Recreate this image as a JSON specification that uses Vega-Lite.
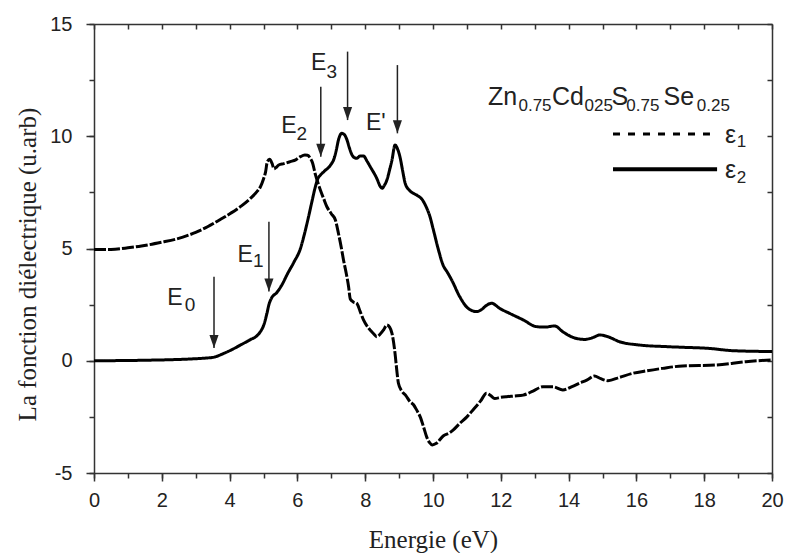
{
  "$schema": "https://vega.github.io/schema/vega-lite/v6.json",
  "width": 678,
  "height": 449,
  "autosize": {"type": "none"},
  "padding": {"left": 94, "top": 24, "right": 17, "bottom": 80},
  "background": "white",
  "view": {"stroke": null},
  "config": {
    "axis": {
      "grid": false,
      "domainColor": "#333",
      "tickColor": "#333",
      "domainWidth": 1.5,
      "tickWidth": 1.5,
      "labelFont": "Liberation Sans",
      "labelFontSize": 20,
      "labelColor": "#222",
      "titleFont": "Liberation Serif",
      "titleFontSize": 25,
      "titleFontWeight": "normal",
      "titleColor": "#222",
      "labelOverlap": false,
      "labelFlush": false
    }
  },
  "datasets": {
    "curves": [
      {"E": 0, "v": 4.95, "s": "ε1"}, {"E": 0.5, "v": 4.96, "s": "ε1"}, {"E": 1.0, "v": 5.03, "s": "ε1"}, {"E": 1.4, "v": 5.11, "s": "ε1"},
      {"E": 2.0, "v": 5.28, "s": "ε1"}, {"E": 2.4, "v": 5.41, "s": "ε1"}, {"E": 3.0, "v": 5.72, "s": "ε1"}, {"E": 3.35, "v": 5.97, "s": "ε1"},
      {"E": 3.7, "v": 6.27, "s": "ε1"}, {"E": 4.03, "v": 6.57, "s": "ε1"}, {"E": 4.35, "v": 6.9, "s": "ε1"}, {"E": 4.62, "v": 7.24, "s": "ε1"},
      {"E": 4.8, "v": 7.52, "s": "ε1"}, {"E": 4.91, "v": 7.75, "s": "ε1"}, {"E": 5.0, "v": 8.1, "s": "ε1"}, {"E": 5.06, "v": 8.4, "s": "ε1"},
      {"E": 5.11, "v": 8.85, "s": "ε1"}, {"E": 5.18, "v": 8.97, "s": "ε1"}, {"E": 5.25, "v": 8.8, "s": "ε1"}, {"E": 5.31, "v": 8.55, "s": "ε1"},
      {"E": 5.38, "v": 8.62, "s": "ε1"}, {"E": 5.45, "v": 8.72, "s": "ε1"}, {"E": 5.6, "v": 8.78, "s": "ε1"}, {"E": 5.79, "v": 8.87, "s": "ε1"},
      {"E": 5.95, "v": 8.95, "s": "ε1"}, {"E": 6.09, "v": 9.09, "s": "ε1"}, {"E": 6.22, "v": 9.16, "s": "ε1"}, {"E": 6.3, "v": 9.15, "s": "ε1"},
      {"E": 6.38, "v": 9.02, "s": "ε1"}, {"E": 6.45, "v": 8.8, "s": "ε1"}, {"E": 6.53, "v": 8.3, "s": "ε1"}, {"E": 6.6, "v": 7.95, "s": "ε1"},
      {"E": 6.68, "v": 7.6, "s": "ε1"}, {"E": 6.78, "v": 7.2, "s": "ε1"}, {"E": 6.87, "v": 6.86, "s": "ε1"}, {"E": 7.0, "v": 6.55, "s": "ε1"},
      {"E": 7.12, "v": 6.27, "s": "ε1"}, {"E": 7.21, "v": 5.68, "s": "ε1"}, {"E": 7.3, "v": 5.0, "s": "ε1"}, {"E": 7.36, "v": 4.49, "s": "ε1"},
      {"E": 7.44, "v": 3.9, "s": "ε1"}, {"E": 7.51, "v": 3.3, "s": "ε1"}, {"E": 7.56, "v": 2.75, "s": "ε1"}, {"E": 7.65, "v": 2.62, "s": "ε1"},
      {"E": 7.75, "v": 2.56, "s": "ε1"}, {"E": 7.85, "v": 2.2, "s": "ε1"}, {"E": 7.95, "v": 1.82, "s": "ε1"}, {"E": 8.1, "v": 1.45, "s": "ε1"},
      {"E": 8.25, "v": 1.2, "s": "ε1"}, {"E": 8.34, "v": 1.07, "s": "ε1"}, {"E": 8.45, "v": 1.2, "s": "ε1"}, {"E": 8.54, "v": 1.37, "s": "ε1"},
      {"E": 8.64, "v": 1.59, "s": "ε1"}, {"E": 8.72, "v": 1.5, "s": "ε1"}, {"E": 8.79, "v": 1.22, "s": "ε1"}, {"E": 8.88, "v": 0.33, "s": "ε1"},
      {"E": 8.93, "v": -0.4, "s": "ε1"}, {"E": 8.98, "v": -1.0, "s": "ε1"}, {"E": 9.08, "v": -1.35, "s": "ε1"}, {"E": 9.2, "v": -1.55, "s": "ε1"},
      {"E": 9.32, "v": -1.82, "s": "ε1"}, {"E": 9.42, "v": -1.95, "s": "ε1"}, {"E": 9.52, "v": -2.2, "s": "ε1"}, {"E": 9.62, "v": -2.49, "s": "ε1"},
      {"E": 9.72, "v": -2.94, "s": "ε1"}, {"E": 9.81, "v": -3.38, "s": "ε1"}, {"E": 9.9, "v": -3.65, "s": "ε1"}, {"E": 9.98, "v": -3.75, "s": "ε1"},
      {"E": 10.1, "v": -3.68, "s": "ε1"}, {"E": 10.3, "v": -3.35, "s": "ε1"}, {"E": 10.5, "v": -3.2, "s": "ε1"}, {"E": 10.6, "v": -3.08, "s": "ε1"},
      {"E": 10.79, "v": -2.79, "s": "ε1"}, {"E": 11.0, "v": -2.5, "s": "ε1"}, {"E": 11.18, "v": -2.19, "s": "ε1"}, {"E": 11.4, "v": -1.8, "s": "ε1"},
      {"E": 11.58, "v": -1.45, "s": "ε1"}, {"E": 11.7, "v": -1.55, "s": "ε1"}, {"E": 11.82, "v": -1.68, "s": "ε1"}, {"E": 12.0, "v": -1.63, "s": "ε1"},
      {"E": 12.17, "v": -1.6, "s": "ε1"}, {"E": 12.4, "v": -1.57, "s": "ε1"}, {"E": 12.66, "v": -1.53, "s": "ε1"}, {"E": 12.95, "v": -1.35, "s": "ε1"},
      {"E": 13.24, "v": -1.16, "s": "ε1"}, {"E": 13.54, "v": -1.16, "s": "ε1"}, {"E": 13.83, "v": -1.3, "s": "ε1"}, {"E": 14.1, "v": -1.15, "s": "ε1"},
      {"E": 14.32, "v": -1.0, "s": "ε1"}, {"E": 14.55, "v": -0.85, "s": "ε1"}, {"E": 14.76, "v": -0.68, "s": "ε1"}, {"E": 14.95, "v": -0.8, "s": "ε1"},
      {"E": 15.16, "v": -0.89, "s": "ε1"}, {"E": 15.5, "v": -0.74, "s": "ε1"}, {"E": 15.89, "v": -0.56, "s": "ε1"}, {"E": 16.3, "v": -0.45, "s": "ε1"},
      {"E": 16.77, "v": -0.34, "s": "ε1"}, {"E": 17.36, "v": -0.23, "s": "ε1"}, {"E": 18.34, "v": -0.19, "s": "ε1"}, {"E": 19.23, "v": -0.04, "s": "ε1"},
      {"E": 20, "v": 0.04, "s": "ε1"},
      {"E": 0, "v": 0.0, "s": "ε2"}, {"E": 1.4, "v": 0.02, "s": "ε2"}, {"E": 2.85, "v": 0.08, "s": "ε2"}, {"E": 3.3, "v": 0.12, "s": "ε2"},
      {"E": 3.54, "v": 0.16, "s": "ε2"}, {"E": 3.83, "v": 0.33, "s": "ε2"}, {"E": 4.1, "v": 0.52, "s": "ε2"}, {"E": 4.32, "v": 0.7, "s": "ε2"},
      {"E": 4.6, "v": 0.93, "s": "ε2"}, {"E": 4.81, "v": 1.12, "s": "ε2"}, {"E": 4.92, "v": 1.32, "s": "ε2"}, {"E": 5.01, "v": 1.6, "s": "ε2"},
      {"E": 5.1, "v": 2.1, "s": "ε2"}, {"E": 5.16, "v": 2.5, "s": "ε2"}, {"E": 5.24, "v": 2.8, "s": "ε2"}, {"E": 5.4, "v": 3.05, "s": "ε2"},
      {"E": 5.55, "v": 3.4, "s": "ε2"}, {"E": 5.7, "v": 3.85, "s": "ε2"}, {"E": 5.9, "v": 4.4, "s": "ε2"}, {"E": 6.09, "v": 5.0, "s": "ε2"},
      {"E": 6.2, "v": 5.6, "s": "ε2"}, {"E": 6.33, "v": 6.42, "s": "ε2"}, {"E": 6.43, "v": 7.1, "s": "ε2"}, {"E": 6.53, "v": 7.75, "s": "ε2"},
      {"E": 6.6, "v": 8.1, "s": "ε2"}, {"E": 6.68, "v": 8.27, "s": "ε2"}, {"E": 6.8, "v": 8.45, "s": "ε2"}, {"E": 6.97, "v": 8.7, "s": "ε2"},
      {"E": 7.08, "v": 9.0, "s": "ε2"}, {"E": 7.15, "v": 9.4, "s": "ε2"}, {"E": 7.21, "v": 9.83, "s": "ε2"}, {"E": 7.31, "v": 10.13, "s": "ε2"},
      {"E": 7.38, "v": 10.08, "s": "ε2"}, {"E": 7.46, "v": 9.85, "s": "ε2"}, {"E": 7.53, "v": 9.5, "s": "ε2"}, {"E": 7.6, "v": 9.2, "s": "ε2"},
      {"E": 7.68, "v": 9.05, "s": "ε2"}, {"E": 7.75, "v": 9.02, "s": "ε2"}, {"E": 7.85, "v": 9.12, "s": "ε2"}, {"E": 7.95, "v": 9.12, "s": "ε2"},
      {"E": 8.05, "v": 8.9, "s": "ε2"}, {"E": 8.15, "v": 8.64, "s": "ε2"}, {"E": 8.34, "v": 8.13, "s": "ε2"}, {"E": 8.45, "v": 7.75, "s": "ε2"},
      {"E": 8.5, "v": 7.68, "s": "ε2"}, {"E": 8.56, "v": 7.8, "s": "ε2"}, {"E": 8.64, "v": 8.05, "s": "ε2"}, {"E": 8.72, "v": 8.5, "s": "ε2"},
      {"E": 8.79, "v": 8.94, "s": "ε2"}, {"E": 8.88, "v": 9.61, "s": "ε2"}, {"E": 8.95, "v": 9.45, "s": "ε2"}, {"E": 9.03, "v": 9.05, "s": "ε2"},
      {"E": 9.1, "v": 8.5, "s": "ε2"}, {"E": 9.18, "v": 7.9, "s": "ε2"}, {"E": 9.3, "v": 7.6, "s": "ε2"}, {"E": 9.42, "v": 7.46, "s": "ε2"},
      {"E": 9.55, "v": 7.35, "s": "ε2"}, {"E": 9.67, "v": 7.2, "s": "ε2"}, {"E": 9.8, "v": 6.85, "s": "ε2"}, {"E": 9.91, "v": 6.42, "s": "ε2"},
      {"E": 10.0, "v": 5.9, "s": "ε2"}, {"E": 10.15, "v": 5.0, "s": "ε2"}, {"E": 10.3, "v": 4.25, "s": "ε2"}, {"E": 10.42, "v": 3.95, "s": "ε2"},
      {"E": 10.55, "v": 3.6, "s": "ε2"}, {"E": 10.79, "v": 2.85, "s": "ε2"}, {"E": 11.04, "v": 2.33, "s": "ε2"}, {"E": 11.29, "v": 2.19, "s": "ε2"},
      {"E": 11.45, "v": 2.3, "s": "ε2"}, {"E": 11.53, "v": 2.41, "s": "ε2"}, {"E": 11.73, "v": 2.56, "s": "ε2"}, {"E": 11.97, "v": 2.33, "s": "ε2"},
      {"E": 12.26, "v": 2.11, "s": "ε2"}, {"E": 12.66, "v": 1.82, "s": "ε2"}, {"E": 13.05, "v": 1.52, "s": "ε2"}, {"E": 13.3, "v": 1.5, "s": "ε2"},
      {"E": 13.59, "v": 1.55, "s": "ε2"}, {"E": 13.83, "v": 1.29, "s": "ε2"}, {"E": 14.13, "v": 1.04, "s": "ε2"}, {"E": 14.47, "v": 0.95, "s": "ε2"},
      {"E": 14.75, "v": 1.05, "s": "ε2"}, {"E": 14.91, "v": 1.15, "s": "ε2"}, {"E": 15.16, "v": 1.07, "s": "ε2"}, {"E": 15.5, "v": 0.85, "s": "ε2"},
      {"E": 16.09, "v": 0.7, "s": "ε2"}, {"E": 16.87, "v": 0.63, "s": "ε2"}, {"E": 17.36, "v": 0.6, "s": "ε2"}, {"E": 18.15, "v": 0.55, "s": "ε2"},
      {"E": 18.83, "v": 0.45, "s": "ε2"}, {"E": 20, "v": 0.41, "s": "ε2"}
    ],
    "arrows": [
      {"x": 3.54, "top": 3.74, "tip": 0.57},
      {"x": 5.16, "top": 6.19, "tip": 3.08},
      {"x": 6.69, "top": 12.21, "tip": 9.09},
      {"x": 7.48, "top": 13.77, "tip": 10.72},
      {"x": 8.95, "top": 13.17, "tip": 10.13}
    ],
    "legend": [
      {"x": 15.31, "x2": 18.17, "y": 10.1, "s": "ε1"},
      {"x": 15.31, "x2": 18.38, "y": 8.53, "s": "ε2"}
    ],
    "labels": [
      {"x": 2.16, "y": 2.48, "t": "E", "g": "E"},
      {"x": 2.68, "y": 2.22, "t": "0", "g": "Esub"},
      {"x": 4.23, "y": 4.41, "t": "E", "g": "E"},
      {"x": 4.69, "y": 4.18, "t": "1", "g": "Esub"},
      {"x": 5.52, "y": 10.13, "t": "E", "g": "E"},
      {"x": 5.97, "y": 9.83, "t": "2", "g": "Esub"},
      {"x": 6.40, "y": 12.95, "t": "E", "g": "E"},
      {"x": 6.86, "y": 12.61, "t": "3", "g": "Esub"},
      {"x": 8.02, "y": 10.28, "t": "E'", "g": "E"},
      {"x": 12.05, "y": 11.38, "t": "Zn", "g": "T"},
      {"x": 13.01, "y": 11.11, "t": "0.75", "g": "Tsub"},
      {"x": 13.98, "y": 11.38, "t": "Cd", "g": "T"},
      {"x": 14.89, "y": 11.11, "t": "025", "g": "Tsub"},
      {"x": 15.51, "y": 11.38, "t": "S", "g": "T"},
      {"x": 16.19, "y": 11.11, "t": "0.75", "g": "Tsub"},
      {"x": 17.25, "y": 11.38, "t": "Se", "g": "T"},
      {"x": 18.27, "y": 11.11, "t": "0.25", "g": "Tsub"},
      {"x": 18.61, "y": 9.69, "t": "ε", "g": "L"},
      {"x": 18.96, "y": 9.51, "t": "1", "g": "Lsub"},
      {"x": 18.61, "y": 8.13, "t": "ε", "g": "L"},
      {"x": 18.96, "y": 7.93, "t": "2", "g": "Lsub"}
    ]
  },
  "resolve": {"axis": {"x": "independent", "y": "independent"}},
  "layer": [
    {
      "data": {"name": "curves"},
      "mark": {"type": "line", "interpolate": "monotone", "strokeWidth": 3, "color": "black"},
      "encoding": {
        "x": {"field": "E", "type": "quantitative", "scale": {"domain": [0, 20], "nice": false, "zero": false},
          "axis": {"orient": "bottom", "values": [0, 2, 4, 6, 8, 10, 12, 14, 16, 18, 20], "tickSize": 8, "labelPadding": 9, "title": "Energie (eV)", "titleX": 339, "titleY": 74, "titleBaseline": "alphabetic", "titleAlign": "center"}},
        "y": {"field": "v", "type": "quantitative", "scale": {"domain": [-5, 15], "nice": false, "zero": false},
          "axis": {"orient": "left", "values": [-5, 0, 5, 10, 15], "tickSize": 8, "labelPadding": 14, "labelExpr": "datum.value + ''", "title": "La fonction diélectrique (u.arb)", "titleX": -59, "titleY": 240, "titleAngle": -90, "titleAlign": "center", "titleBaseline": "alphabetic"}},
        "strokeDash": {"field": "s", "type": "nominal", "scale": {"domain": ["ε1", "ε2"], "range": [[12, 2], [1, 0]]}, "legend": null}
      }
    },
    {
      "data": {"name": "arrows"},
      "mark": {"type": "rule", "strokeWidth": 1.5, "color": "#222"},
      "encoding": {
        "x": {"field": "x", "type": "quantitative", "scale": {"domain": [0, 20], "nice": false, "zero": false},
          "axis": {"orient": "bottom", "values": [0,1,2,3,4,5,6,7,8,9,10,11,12,13,14,15,16,17,18,19,20], "tickSize": 5, "labels": false, "domain": false, "title": null}},
        "y": {"field": "top", "type": "quantitative", "scale": {"domain": [-5, 15], "nice": false, "zero": false},
          "axis": {"orient": "left", "values": [-5, -2.5, 0, 2.5, 5, 7.5, 10, 12.5, 15], "tickSize": 5, "labels": false, "domain": false, "title": null}},
        "y2": {"field": "tip"}
      }
    },
    {
      "data": {"name": "arrows"},
      "mark": {"type": "point", "shape": "M-0.7,-1L0.7,-1L0,1Z", "size": 169, "filled": true, "color": "#222", "opacity": 1, "yOffset": -6.5},
      "encoding": {
        "x": {"field": "x", "type": "quantitative", "scale": {"domain": [0, 20], "nice": false, "zero": false},
          "axis": {"orient": "top", "values": [0,1,2,3,4,5,6,7,8,9,10,11,12,13,14,15,16,17,18,19,20], "tickSize": -5, "labels": false, "title": null}},
        "y": {"field": "tip", "type": "quantitative", "scale": {"domain": [-5, 15], "nice": false, "zero": false},
          "axis": {"orient": "right", "values": [-5, -2.5, 0, 2.5, 5, 7.5, 10, 12.5, 15], "tickSize": -5, "labels": false, "title": null}}
      }
    },
    {
      "data": {"name": "legend"},
      "transform": [{"filter": "datum.s === 'ε1'"}],
      "mark": {"type": "rule", "strokeWidth": 3, "color": "black", "strokeDash": [7, 8]},
      "encoding": {
        "x": {"field": "x", "type": "quantitative", "scale": {"domain": [0, 20], "nice": false, "zero": false}, "axis": null},
        "x2": {"field": "x2"},
        "y": {"field": "y", "type": "quantitative", "scale": {"domain": [-5, 15], "nice": false, "zero": false}, "axis": null}
      }
    },
    {
      "data": {"name": "legend"},
      "transform": [{"filter": "datum.s === 'ε2'"}],
      "mark": {"type": "rule", "strokeWidth": 4, "color": "black"},
      "encoding": {
        "x": {"field": "x", "type": "quantitative", "scale": {"domain": [0, 20], "nice": false, "zero": false}, "axis": null},
        "x2": {"field": "x2"},
        "y": {"field": "y", "type": "quantitative", "scale": {"domain": [-5, 15], "nice": false, "zero": false}, "axis": null}
      }
    },
    {
      "data": {"name": "labels"},
      "transform": [{"filter": "datum.g === 'E'"}],
      "mark": {"type": "text", "font": "Liberation Sans", "fontSize": 23, "color": "#222", "align": "left", "baseline": "alphabetic"},
      "encoding": {
        "x": {"field": "x", "type": "quantitative", "scale": {"domain": [0, 20], "nice": false, "zero": false}, "axis": null},
        "y": {"field": "y", "type": "quantitative", "scale": {"domain": [-5, 15], "nice": false, "zero": false}, "axis": null},
        "text": {"field": "t"}
      }
    },
    {
      "data": {"name": "labels"},
      "transform": [{"filter": "datum.g === 'Esub'"}],
      "mark": {"type": "text", "font": "Liberation Sans", "fontSize": 19, "color": "#222", "align": "left", "baseline": "alphabetic"},
      "encoding": {
        "x": {"field": "x", "type": "quantitative", "scale": {"domain": [0, 20], "nice": false, "zero": false}, "axis": null},
        "y": {"field": "y", "type": "quantitative", "scale": {"domain": [-5, 15], "nice": false, "zero": false}, "axis": null},
        "text": {"field": "t"}
      }
    },
    {
      "data": {"name": "labels"},
      "transform": [{"filter": "datum.g === 'T'"}],
      "mark": {"type": "text", "font": "Liberation Sans", "fontSize": 25, "color": "#222", "align": "center", "baseline": "alphabetic"},
      "encoding": {
        "x": {"field": "x", "type": "quantitative", "scale": {"domain": [0, 20], "nice": false, "zero": false}, "axis": null},
        "y": {"field": "y", "type": "quantitative", "scale": {"domain": [-5, 15], "nice": false, "zero": false}, "axis": null},
        "text": {"field": "t"}
      }
    },
    {
      "data": {"name": "labels"},
      "transform": [{"filter": "datum.g === 'Tsub'"}],
      "mark": {"type": "text", "font": "Liberation Sans", "fontSize": 17, "color": "#222", "align": "center", "baseline": "alphabetic"},
      "encoding": {
        "x": {"field": "x", "type": "quantitative", "scale": {"domain": [0, 20], "nice": false, "zero": false}, "axis": null},
        "y": {"field": "y", "type": "quantitative", "scale": {"domain": [-5, 15], "nice": false, "zero": false}, "axis": null},
        "text": {"field": "t"}
      }
    },
    {
      "data": {"name": "labels"},
      "transform": [{"filter": "datum.g === 'L'"}],
      "mark": {"type": "text", "font": "Liberation Sans", "fontSize": 25, "color": "#222", "align": "left", "baseline": "alphabetic"},
      "encoding": {
        "x": {"field": "x", "type": "quantitative", "scale": {"domain": [0, 20], "nice": false, "zero": false}, "axis": null},
        "y": {"field": "y", "type": "quantitative", "scale": {"domain": [-5, 15], "nice": false, "zero": false}, "axis": null},
        "text": {"field": "t"}
      }
    },
    {
      "data": {"name": "labels"},
      "transform": [{"filter": "datum.g === 'Lsub'"}],
      "mark": {"type": "text", "font": "Liberation Sans", "fontSize": 17, "color": "#222", "align": "left", "baseline": "alphabetic"},
      "encoding": {
        "x": {"field": "x", "type": "quantitative", "scale": {"domain": [0, 20], "nice": false, "zero": false}, "axis": null},
        "y": {"field": "y", "type": "quantitative", "scale": {"domain": [-5, 15], "nice": false, "zero": false}, "axis": null},
        "text": {"field": "t"}
      }
    }
  ]
}
